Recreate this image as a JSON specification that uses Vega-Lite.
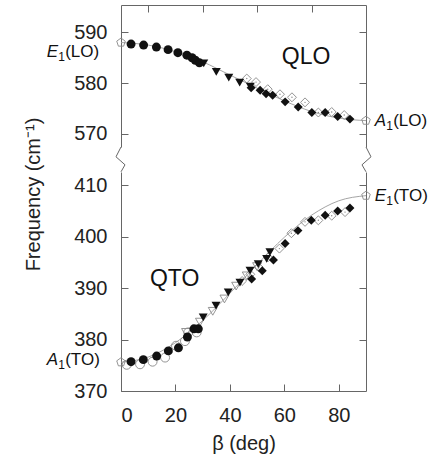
{
  "$schema": "https://vega.github.io/schema/vega-lite/v6.json",
  "padding": {"left": 22, "top": 4, "right": 9, "bottom": 5},
  "spacing": 25,
  "bounds": "flush",
  "datasets": {
    "pts": [
      {"p": "LO", "s": "pe", "b": 0, "f": 588.0},
      {"p": "LO", "s": "pe", "b": 90, "f": 572.6},
      {"p": "LO", "s": "fc", "b": 3.7, "f": 587.7},
      {"p": "LO", "s": "fc", "b": 8.3, "f": 587.5},
      {"p": "LO", "s": "fc", "b": 13.0, "f": 587.1},
      {"p": "LO", "s": "fc", "b": 17.3, "f": 586.6},
      {"p": "LO", "s": "fc", "b": 20.9, "f": 586.0},
      {"p": "LO", "s": "fc", "b": 24.2, "f": 585.5},
      {"p": "LO", "s": "fc", "b": 26.1, "f": 585.0},
      {"p": "LO", "s": "fc", "b": 27.3, "f": 584.5},
      {"p": "LO", "s": "fc", "b": 28.8, "f": 584.0},
      {"p": "LO", "s": "ft", "b": 30.4, "f": 583.9},
      {"p": "LO", "s": "ft", "b": 35.0, "f": 582.2},
      {"p": "LO", "s": "ft", "b": 39.6, "f": 581.1},
      {"p": "LO", "s": "ft", "b": 43.6, "f": 580.1},
      {"p": "LO", "s": "ft", "b": 47.5, "f": 579.3},
      {"p": "LO", "s": "od", "b": 46.2, "f": 580.9},
      {"p": "LO", "s": "od", "b": 49.6, "f": 580.2},
      {"p": "LO", "s": "od", "b": 53.9, "f": 578.8},
      {"p": "LO", "s": "od", "b": 58.4, "f": 577.8},
      {"p": "LO", "s": "od", "b": 62.8, "f": 577.2},
      {"p": "LO", "s": "od", "b": 67.6, "f": 576.2},
      {"p": "LO", "s": "od", "b": 72.5, "f": 574.2},
      {"p": "LO", "s": "od", "b": 77.4, "f": 574.3},
      {"p": "LO", "s": "od", "b": 82.0, "f": 573.7},
      {"p": "LO", "s": "fd", "b": 47.8, "f": 579.1},
      {"p": "LO", "s": "fd", "b": 51.1, "f": 578.6},
      {"p": "LO", "s": "fd", "b": 53.3, "f": 577.9},
      {"p": "LO", "s": "fd", "b": 55.7, "f": 577.6},
      {"p": "LO", "s": "fd", "b": 60.3, "f": 576.3},
      {"p": "LO", "s": "fd", "b": 65.1, "f": 575.3},
      {"p": "LO", "s": "fd", "b": 70.1, "f": 574.2},
      {"p": "LO", "s": "fd", "b": 75.0, "f": 574.2},
      {"p": "LO", "s": "fd", "b": 79.6, "f": 573.4},
      {"p": "LO", "s": "fd", "b": 84.1, "f": 572.9},
      {"p": "TO", "s": "pe", "b": 0, "f": 375.6},
      {"p": "TO", "s": "pe", "b": 90, "f": 408.0},
      {"p": "TO", "s": "oc", "b": 2.1, "f": 375.1},
      {"p": "TO", "s": "oc", "b": 7.0, "f": 375.2},
      {"p": "TO", "s": "oc", "b": 11.6, "f": 375.7},
      {"p": "TO", "s": "oc", "b": 16.2, "f": 376.5},
      {"p": "TO", "s": "oc", "b": 20.2, "f": 378.8},
      {"p": "TO", "s": "oc", "b": 23.5, "f": 379.7},
      {"p": "TO", "s": "oc", "b": 24.7, "f": 381.4},
      {"p": "TO", "s": "oc", "b": 27.8, "f": 381.4},
      {"p": "TO", "s": "fc", "b": 3.7, "f": 375.7},
      {"p": "TO", "s": "fc", "b": 8.2, "f": 376.1},
      {"p": "TO", "s": "fc", "b": 13.1, "f": 376.8},
      {"p": "TO", "s": "fc", "b": 17.4, "f": 377.8},
      {"p": "TO", "s": "fc", "b": 21.1, "f": 378.4},
      {"p": "TO", "s": "fc", "b": 24.4, "f": 380.5},
      {"p": "TO", "s": "fc", "b": 26.8, "f": 382.1},
      {"p": "TO", "s": "fc", "b": 28.4, "f": 382.1},
      {"p": "TO", "s": "ot", "b": 23.9, "f": 381.4},
      {"p": "TO", "s": "ot", "b": 29.0, "f": 383.4},
      {"p": "TO", "s": "ot", "b": 33.7, "f": 385.5},
      {"p": "TO", "s": "ot", "b": 38.0, "f": 387.9},
      {"p": "TO", "s": "ot", "b": 42.3, "f": 390.4},
      {"p": "TO", "s": "ot", "b": 46.2, "f": 392.4},
      {"p": "TO", "s": "ot", "b": 50.0, "f": 394.2},
      {"p": "TO", "s": "ft", "b": 30.2, "f": 384.3},
      {"p": "TO", "s": "ft", "b": 34.9, "f": 386.6},
      {"p": "TO", "s": "ft", "b": 39.4, "f": 389.2},
      {"p": "TO", "s": "ft", "b": 43.7, "f": 391.1},
      {"p": "TO", "s": "ft", "b": 47.4, "f": 393.4},
      {"p": "TO", "s": "ft", "b": 50.4, "f": 394.7},
      {"p": "TO", "s": "ft", "b": 53.5, "f": 395.7},
      {"p": "TO", "s": "ft", "b": 54.7, "f": 397.0},
      {"p": "TO", "s": "od", "b": 44.5, "f": 391.4},
      {"p": "TO", "s": "od", "b": 47.5, "f": 392.7},
      {"p": "TO", "s": "od", "b": 50.5, "f": 394.1},
      {"p": "TO", "s": "od", "b": 54.0, "f": 396.0},
      {"p": "TO", "s": "od", "b": 58.2, "f": 397.7},
      {"p": "TO", "s": "od", "b": 62.6, "f": 400.7},
      {"p": "TO", "s": "od", "b": 67.6, "f": 402.9},
      {"p": "TO", "s": "od", "b": 72.5, "f": 403.2},
      {"p": "TO", "s": "od", "b": 77.4, "f": 404.1},
      {"p": "TO", "s": "od", "b": 82.3, "f": 404.8},
      {"p": "TO", "s": "fd", "b": 48.0, "f": 391.8},
      {"p": "TO", "s": "fd", "b": 51.9, "f": 393.4},
      {"p": "TO", "s": "fd", "b": 56.0, "f": 395.5},
      {"p": "TO", "s": "fd", "b": 60.3, "f": 398.7},
      {"p": "TO", "s": "fd", "b": 65.0, "f": 401.2},
      {"p": "TO", "s": "fd", "b": 69.9, "f": 403.2},
      {"p": "TO", "s": "fd", "b": 75.0, "f": 404.2},
      {"p": "TO", "s": "fd", "b": 79.6, "f": 405.0},
      {"p": "TO", "s": "fd", "b": 84.1, "f": 405.6}
    ],
    "curves": [
      {"p": "LO", "b": 0, "f": 588.0}, {"p": "LO", "b": 10, "f": 587.5}, {"p": "LO", "b": 20, "f": 586.2},
      {"p": "LO", "b": 30, "f": 584.2}, {"p": "LO", "b": 40, "f": 581.6}, {"p": "LO", "b": 50, "f": 579.0},
      {"p": "LO", "b": 60, "f": 576.5}, {"p": "LO", "b": 70, "f": 574.4}, {"p": "LO", "b": 80, "f": 573.1},
      {"p": "LO", "b": 90, "f": 572.6},
      {"p": "TO", "b": 0, "f": 375.6}, {"p": "TO", "b": 10, "f": 376.6}, {"p": "TO", "b": 20, "f": 379.4},
      {"p": "TO", "b": 30, "f": 383.7}, {"p": "TO", "b": 40, "f": 389.0}, {"p": "TO", "b": 50, "f": 394.6},
      {"p": "TO", "b": 60, "f": 399.9}, {"p": "TO", "b": 70, "f": 404.2}, {"p": "TO", "b": 80, "f": 407.0},
      {"p": "TO", "b": 90, "f": 408.0}
    ],
    "zz": [
      {"side": "L", "i": 0, "b": 0, "f": 567.4},
      {"side": "L", "i": 1, "b": -1.84, "f": 565.47},
      {"side": "L", "i": 2, "b": 1.47, "f": 563.89},
      {"side": "L", "i": 3, "b": 0, "f": 562.51},
      {"side": "R", "i": 0, "b": 90, "f": 567.4},
      {"side": "R", "i": 1, "b": 91.84, "f": 565.47},
      {"side": "R", "i": 2, "b": 88.53, "f": 563.89},
      {"side": "R", "i": 3, "b": 90, "f": 562.51}
    ],
    "notes": [
      {"p": "LO", "b": -27.3, "f": 586.2, "L": "E", "S": "1", "R": "(LO)"},
      {"p": "LO", "b": 93.2, "f": 572.6, "L": "A", "S": "1", "R": "(LO)"},
      {"p": "TO", "b": -27.3, "f": 376.0, "L": "A", "S": "1", "R": "(TO)"},
      {"p": "TO", "b": 93.2, "f": 408.0, "L": "E", "S": "1", "R": "(TO)"}
    ],
    "big": [
      {"p": "LO", "b": 68, "f": 585.2, "t": "QLO"},
      {"p": "TO", "b": 19.7, "f": 391.7, "t": "QTO"}
    ]
  },
  "vconcat": [
    {
      "width": 245,
      "height": 142,
      "layer": [
        {
          "data": {"name": "curves"},
          "transform": [{"filter": "datum.p == 'LO'"}],
          "mark": {"type": "line", "color": "#9a9a9a", "strokeWidth": 0.9, "interpolate": "monotone"},
          "encoding": {
            "x": {"field": "b", "type": "quantitative", "scale": {"domain": [0, 90], "nice": false, "zero": false},
                  "axis": {"orient": "top", "values": [10, 20, 30, 40, 50, 60, 70, 80], "labels": false, "title": null}},
            "y": {"field": "f", "type": "quantitative", "scale": {"domain": [567.4, 595.4], "nice": false, "zero": false},
                  "axis": {"orient": "left", "values": [570, 580, 590], "title": null}}
          }
        },
        {
          "data": {"name": "zz"},
          "mark": {"type": "line", "color": "#666", "strokeWidth": 1},
          "encoding": {
            "x": {"field": "b", "type": "quantitative"},
            "y": {"field": "f", "type": "quantitative",
                  "axis": {"orient": "right", "values": [570, 580, 590], "labels": false, "title": null}},
            "detail": {"field": "side"},
            "order": {"field": "i"}
          }
        },
        {
          "data": {"name": "pts"},
          "transform": [{"filter": "datum.p == 'LO' && (datum.s == 'od' || datum.s == 'oc' || datum.s == 'ot' || datum.s == 'pe')"}],
          "mark": {"type": "point", "filled": false, "color": "#888", "strokeWidth": 0.9, "opacity": 1},
          "encoding": {
            "x": {"field": "b", "type": "quantitative"},
            "y": {"field": "f", "type": "quantitative", "axis": null},
            "shape": {"field": "s", "type": "nominal", "legend": null,
                      "scale": {"domain": ["fc", "oc", "ft", "ot", "fd", "od", "pe"],
                                "range": ["circle", "circle", "triangle-down", "triangle-down", "diamond", "diamond", "M0,-1L0.951,-0.309L0.588,0.809L-0.588,0.809L-0.951,-0.309Z"]}},
            "size": {"field": "s", "type": "nominal", "legend": null,
                     "scale": {"domain": ["fc", "oc", "ft", "ot", "fd", "od", "pe"], "range": [80, 80, 60, 60, 60, 60, 70]}}
          }
        },
        {
          "data": {"name": "pts"},
          "transform": [{"filter": "datum.p == 'LO' && datum.s == 'od'"}],
          "mark": {"type": "point", "filled": true, "color": "#888", "size": 2, "opacity": 1},
          "encoding": {
            "x": {"field": "b", "type": "quantitative"},
            "y": {"field": "f", "type": "quantitative", "axis": null}
          }
        },
        {
          "data": {"name": "pts"},
          "transform": [{"filter": "datum.p == 'LO' && (datum.s == 'fc' || datum.s == 'ft' || datum.s == 'fd')"}],
          "mark": {"type": "point", "filled": true, "color": "#111", "opacity": 1},
          "encoding": {
            "x": {"field": "b", "type": "quantitative"},
            "y": {"field": "f", "type": "quantitative", "axis": null},
            "shape": {"field": "s", "type": "nominal", "legend": null},
            "size": {"field": "s", "type": "nominal", "legend": null}
          }
        },
        {
          "data": {"name": "big"},
          "transform": [{"filter": "datum.p == 'LO'"}],
          "mark": {"type": "text", "fontSize": 23, "color": "#111", "baseline": "middle", "align": "center"},
          "encoding": {
            "x": {"field": "b", "type": "quantitative"},
            "y": {"field": "f", "type": "quantitative", "axis": null},
            "text": {"field": "t"}
          }
        },
        {
          "data": {"name": "notes"},
          "transform": [{"filter": "datum.p == 'LO'"}],
          "mark": {"type": "text", "fontSize": 17, "fontStyle": "italic", "color": "#111", "baseline": "middle", "align": "left"},
          "encoding": {
            "x": {"field": "b", "type": "quantitative"},
            "y": {"field": "f", "type": "quantitative", "axis": null},
            "text": {"field": "L"}
          }
        },
        {
          "data": {"name": "notes"},
          "transform": [{"filter": "datum.p == 'LO'"}],
          "mark": {"type": "text", "fontSize": 12, "dx": 11.5, "dy": 5, "color": "#111", "baseline": "middle", "align": "left"},
          "encoding": {
            "x": {"field": "b", "type": "quantitative"},
            "y": {"field": "f", "type": "quantitative", "axis": null},
            "text": {"field": "S"}
          }
        },
        {
          "data": {"name": "notes"},
          "transform": [{"filter": "datum.p == 'LO'"}],
          "mark": {"type": "text", "fontSize": 17, "dx": 18.5, "color": "#111", "baseline": "middle", "align": "left"},
          "encoding": {
            "x": {"field": "b", "type": "quantitative"},
            "y": {"field": "f", "type": "quantitative", "axis": null},
            "text": {"field": "R"}
          }
        }
      ],
      "resolve": {"axis": {"y": "independent"}}
    },
    {
      "width": 245,
      "height": 219,
      "layer": [
        {
          "data": {"name": "curves"},
          "transform": [{"filter": "datum.p == 'TO'"}],
          "mark": {"type": "line", "color": "#9a9a9a", "strokeWidth": 0.9, "interpolate": "monotone"},
          "encoding": {
            "x": {"field": "b", "type": "quantitative", "scale": {"domain": [0, 90], "nice": false, "zero": false},
                  "axis": {"orient": "bottom", "values": [0, 10, 20, 30, 40, 50, 60, 70, 80],
                           "labelExpr": "datum.value % 20 == 0 ? datum.label : ''", "title": "β (deg)", "titlePadding": 8}},
            "y": {"field": "f", "type": "quantitative", "scale": {"domain": [370, 412.6], "nice": false, "zero": false},
                  "axis": {"orient": "left", "values": [370, 380, 390, 400, 410], "title": "Frequency (cm⁻¹)",
                           "titleAngle": -90, "titleX": -88, "titleY": 22, "titleAlign": "center", "titleBaseline": "middle"}}
          }
        },
        {
          "data": {"name": "curves"},
          "transform": [{"filter": "datum.p == 'TO'"}],
          "mark": {"type": "line", "opacity": 0},
          "encoding": {
            "x": {"field": "b", "type": "quantitative"},
            "y": {"field": "f", "type": "quantitative",
                  "axis": {"orient": "right", "values": [380, 390, 400, 410], "labels": false, "title": null}}
          }
        },
        {
          "data": {"name": "pts"},
          "transform": [{"filter": "datum.p == 'TO' && (datum.s == 'od' || datum.s == 'oc' || datum.s == 'ot' || datum.s == 'pe')"}],
          "mark": {"type": "point", "filled": false, "color": "#888", "strokeWidth": 0.9, "opacity": 1},
          "encoding": {
            "x": {"field": "b", "type": "quantitative"},
            "y": {"field": "f", "type": "quantitative", "axis": null},
            "shape": {"field": "s", "type": "nominal", "legend": null,
                      "scale": {"domain": ["fc", "oc", "ft", "ot", "fd", "od", "pe"],
                                "range": ["circle", "circle", "triangle-down", "triangle-down", "diamond", "diamond", "M0,-1L0.951,-0.309L0.588,0.809L-0.588,0.809L-0.951,-0.309Z"]}},
            "size": {"field": "s", "type": "nominal", "legend": null,
                     "scale": {"domain": ["fc", "oc", "ft", "ot", "fd", "od", "pe"], "range": [80, 80, 60, 60, 60, 60, 70]}}
          }
        },
        {
          "data": {"name": "pts"},
          "transform": [{"filter": "datum.p == 'TO' && datum.s == 'od'"}],
          "mark": {"type": "point", "filled": true, "color": "#888", "size": 2, "opacity": 1},
          "encoding": {
            "x": {"field": "b", "type": "quantitative"},
            "y": {"field": "f", "type": "quantitative", "axis": null}
          }
        },
        {
          "data": {"name": "pts"},
          "transform": [{"filter": "datum.p == 'TO' && (datum.s == 'fc' || datum.s == 'ft' || datum.s == 'fd')"}],
          "mark": {"type": "point", "filled": true, "color": "#111", "opacity": 1},
          "encoding": {
            "x": {"field": "b", "type": "quantitative"},
            "y": {"field": "f", "type": "quantitative", "axis": null},
            "shape": {"field": "s", "type": "nominal", "legend": null},
            "size": {"field": "s", "type": "nominal", "legend": null}
          }
        },
        {
          "data": {"name": "big"},
          "transform": [{"filter": "datum.p == 'TO'"}],
          "mark": {"type": "text", "fontSize": 23, "color": "#111", "baseline": "middle", "align": "center"},
          "encoding": {
            "x": {"field": "b", "type": "quantitative"},
            "y": {"field": "f", "type": "quantitative", "axis": null},
            "text": {"field": "t"}
          }
        },
        {
          "data": {"name": "notes"},
          "transform": [{"filter": "datum.p == 'TO'"}],
          "mark": {"type": "text", "fontSize": 17, "fontStyle": "italic", "color": "#111", "baseline": "middle", "align": "left"},
          "encoding": {
            "x": {"field": "b", "type": "quantitative"},
            "y": {"field": "f", "type": "quantitative", "axis": null},
            "text": {"field": "L"}
          }
        },
        {
          "data": {"name": "notes"},
          "transform": [{"filter": "datum.p == 'TO'"}],
          "mark": {"type": "text", "fontSize": 12, "dx": 11.5, "dy": 5, "color": "#111", "baseline": "middle", "align": "left"},
          "encoding": {
            "x": {"field": "b", "type": "quantitative"},
            "y": {"field": "f", "type": "quantitative", "axis": null},
            "text": {"field": "S"}
          }
        },
        {
          "data": {"name": "notes"},
          "transform": [{"filter": "datum.p == 'TO'"}],
          "mark": {"type": "text", "fontSize": 17, "dx": 18.5, "color": "#111", "baseline": "middle", "align": "left"},
          "encoding": {
            "x": {"field": "b", "type": "quantitative"},
            "y": {"field": "f", "type": "quantitative", "axis": null},
            "text": {"field": "R"}
          }
        }
      ],
      "resolve": {"axis": {"y": "independent"}}
    }
  ],
  "config": {
    "view": {"stroke": null},
    "font": "Liberation Sans",
    "text": {"font": "Liberation Sans"},
    "axis": {
      "labelFont": "Liberation Sans", "labelFontSize": 20, "labelColor": "#222",
      "titleFont": "Liberation Sans", "titleFontSize": 20, "titleFontWeight": "normal", "titleColor": "#222",
      "domainColor": "#666", "tickColor": "#666", "domainWidth": 1, "tickWidth": 1,
      "grid": false, "tickSize": -7, "labelPadding": 21
    }
  }
}
